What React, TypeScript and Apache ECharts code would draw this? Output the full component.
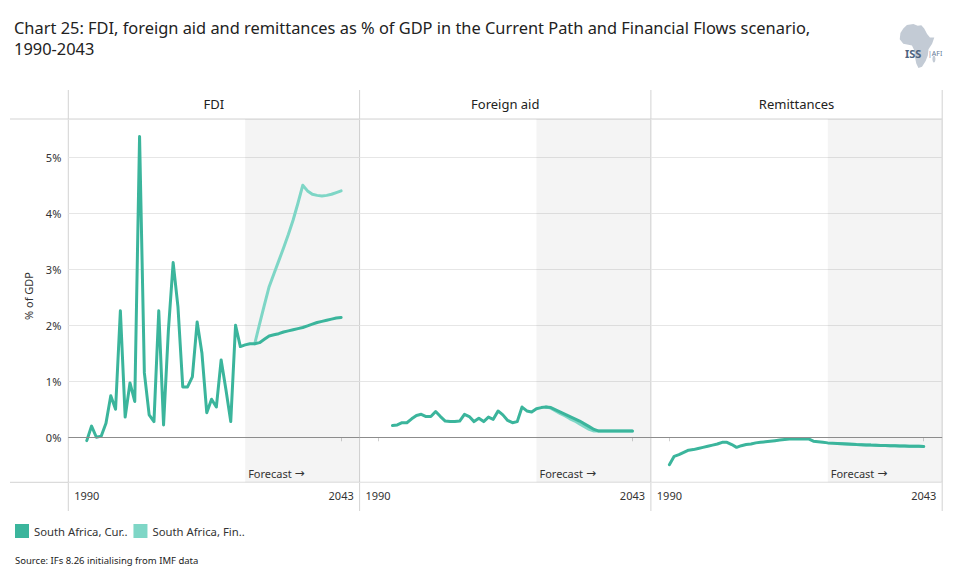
import React, { useEffect, useRef } from "react";
import * as echarts from "echarts";

const years = [
  1990, 1991, 1992, 1993, 1994, 1995, 1996, 1997, 1998, 1999,
  2000, 2001, 2002, 2003, 2004, 2005, 2006, 2007, 2008, 2009,
  2010, 2011, 2012, 2013, 2014, 2015, 2016, 2017, 2018, 2019,
  2020, 2021, 2022, 2023, 2024, 2025, 2026, 2027, 2028, 2029,
  2030, 2031, 2032, 2033, 2034, 2035, 2036, 2037, 2038, 2039,
  2040, 2041, 2042, 2043,
];

// FDI, % of GDP
const fdiCurrent = [
  -0.06, 0.2, 0.0, 0.02, 0.25, 0.74, 0.5, 2.26, 0.36, 0.97,
  0.64, 5.37, 1.15, 0.4, 0.28, 2.26, 0.22, 1.9, 3.12, 2.33,
  0.9, 0.9, 1.08, 2.06, 1.5, 0.44, 0.68, 0.54, 1.38, 0.85,
  0.28, 2.0, 1.62, 1.65, 1.67, 1.67, 1.69, 1.75, 1.81, 1.83,
  1.85, 1.88, 1.9, 1.92, 1.94, 1.96, 1.99, 2.02, 2.05, 2.07,
  2.09, 2.11, 2.13, 2.14,
];
const fdiFinancial = [
  null, null, null, null, null, null, null, null, null, null,
  null, null, null, null, null, null, null, null, null, null,
  null, null, null, null, null, null, null, null, null, null,
  null, null, null, null, null, 1.67, 2.02, 2.36, 2.69, 2.92,
  3.15, 3.38, 3.62, 3.88, 4.18, 4.5, 4.4, 4.34, 4.32, 4.31,
  4.32, 4.34, 4.37, 4.4,
];

// Foreign aid, % of GDP
const aidCurrent = [
  null, null, null, 0.21, 0.22, 0.26, 0.26, 0.33, 0.39, 0.41,
  0.37, 0.37, 0.46, 0.37, 0.29, 0.28, 0.28, 0.29, 0.41, 0.37,
  0.28, 0.34, 0.28, 0.36, 0.32, 0.47, 0.4, 0.3, 0.26, 0.28,
  0.54, 0.47, 0.45, 0.51, 0.53, 0.54, 0.53, 0.49, 0.45, 0.41,
  0.37, 0.33, 0.29, 0.24, 0.19, 0.14, 0.11, 0.11, 0.11, 0.11,
  0.11, 0.11, 0.11, 0.11,
];
const aidFinancial = [
  null, null, null, null, null, null, null, null, null, null,
  null, null, null, null, null, null, null, null, null, null,
  null, null, null, null, null, null, null, null, null, null,
  null, null, null, null, null, 0.54, 0.52, 0.47, 0.42, 0.38,
  0.33, 0.29, 0.24, 0.19, 0.14, 0.11, 0.11, 0.11, 0.11, 0.11,
  0.11, 0.11, 0.11, 0.11,
];

// Remittances, % of GDP
const remCurrent = [
  -0.49, -0.34, -0.31, -0.27, -0.23, -0.22, -0.2, -0.18, -0.16, -0.14,
  -0.12, -0.09, -0.09, -0.13, -0.18, -0.15, -0.13, -0.12, -0.1, -0.09,
  -0.08, -0.07, -0.06, -0.05, -0.04, -0.03, -0.03, -0.03, -0.03, -0.03,
  -0.07, -0.08, -0.09, -0.1, -0.105, -0.11, -0.115, -0.12, -0.125, -0.13,
  -0.133, -0.136, -0.14, -0.142, -0.145, -0.148, -0.15, -0.152, -0.154, -0.156,
  -0.158, -0.16, -0.162, -0.164,
];
const remFinancial = [
  null, null, null, null, null, null, null, null, null, null,
  null, null, null, null, null, null, null, null, null, null,
  null, null, null, null, null, null, null, null, null, null,
  null, null, null, null, null, -0.11, -0.115, -0.12, -0.125, -0.13,
  -0.133, -0.136, -0.14, -0.142, -0.145, -0.148, -0.15, -0.152, -0.154, -0.156,
  -0.158, -0.16, -0.162, -0.164,
];

const panelTitles = ["FDI", "Foreign aid", "Remittances"];
const seriesNames = ["South Africa, Current Path", "South Africa, Financial Flows"];
const xTickLabels = [1990, 2043];
const forecastStart = 2023;
const yLabelSuffix = "%";
const titleLines = [
  "Chart 25: FDI, foreign aid and remittances as % of GDP in the Current Path and Financial Flows scenario,",
  "1990-2043",
];

const panels = [
  { current: fdiCurrent, financial: fdiFinancial },
  { current: aidCurrent, financial: aidFinancial },
  { current: remCurrent, financial: remFinancial },
];

const X_MIN = 1986.15;
const X_MAX = 2046.85;
const Y_MIN = -0.804;
const Y_MAX = 5.684;
const COLOR_CP = "#3bb59c";
const COLOR_FF = "#7ed6c6";
const FONT = "'Noto Sans', 'Open Sans', sans-serif";

const PANEL_LEFT = [68.3, 359.6, 650.9];
const PANEL_W = 291.3;
const GRID_TOP = 119;
const GRID_H = 363.3;

function pairs(vals: (number | null)[]) {
  return years
    .map((y, i) => [y, vals[i]] as [number, number | null])
    .filter((p) => p[1] !== null);
}

export default function App() {
  const ref = useRef<HTMLDivElement>(null);
  useEffect(() => {
    document.body.style.margin = "0";
    if (!ref.current) return;
    const chart = echarts.init(ref.current, null, { renderer: "svg" });

    const grids = PANEL_LEFT.map((l) => ({
      left: l,
      top: GRID_TOP,
      width: PANEL_W,
      height: GRID_H,
      outerBoundsMode: "none",
      containLabel: false,
    }));

    const xAxes = panels.map((_, i) => ({
      type: "value",
      gridIndex: i,
      min: X_MIN,
      max: X_MAX,
      axisLine: { show: false },
      splitLine: { show: false },
      axisTick: {
        show: true,
        customValues: xTickLabels,
        length: 4,
        lineStyle: { color: "#cfcfcf" },
      },
      axisLabel: {
        customValues: xTickLabels,
        fontSize: 11,
        color: "#333",
        margin: 8,
        fontFamily: FONT,
        formatter: (v: number) => String(v),
      },
    }));

    const yAxes = panels.map((_, i) => ({
      type: "value",
      gridIndex: i,
      min: Y_MIN,
      max: Y_MAX,
      splitNumber: 6,
      axisLine: { show: false },
      axisTick: { show: false },
      splitLine: { show: true, lineStyle: { color: "#e6e6e6", width: 1 } },
      axisLabel: {
        show: i === 0,
        showMinLabel: false,
        showMaxLabel: false,
        fontSize: 11,
        color: "#333",
        margin: 7,
        fontFamily: FONT,
        formatter: (v: number) =>
          Math.abs(v - Math.round(v)) < 1e-6 ? Math.round(v) + yLabelSuffix : "",
      },
    }));

    const series: any[] = [];
    panels.forEach((p, i) => {
      series.push({
        name: seriesNames[1],
        type: "line",
        xAxisIndex: i,
        yAxisIndex: i,
        data: pairs(p.financial),
        showSymbol: false,
        symbol: "none",
        silent: true,
        z: 3,
        lineStyle: { color: COLOR_FF, width: 3, cap: "round", join: "round" },
        itemStyle: { color: COLOR_FF },
      });
      series.push({
        name: seriesNames[0],
        type: "line",
        xAxisIndex: i,
        yAxisIndex: i,
        data: pairs(p.current),
        showSymbol: false,
        symbol: "none",
        silent: true,
        z: 4,
        lineStyle: { color: COLOR_CP, width: 3, cap: "round", join: "round" },
        itemStyle: { color: COLOR_CP },
        markArea: {
          silent: true,
          itemStyle: { color: "rgba(0,0,0,0.045)" },
          label: {
            show: true,
            position: "insideBottomLeft",
            distance: 3,
            color: "#333",
            fontSize: 11,
            fontFamily: FONT,
            formatter: "{t|Forecast} {a|\u2192}",
            rich: {
              t: { fontSize: 11, fontFamily: FONT, color: "#333" },
              a: { fontSize: 12, fontFamily: "'DejaVu Sans', sans-serif", color: "#333" },
            },
          },
          data: [[{ name: "Forecast \u2192", xAxis: forecastStart }, { xAxis: X_MAX }]],
        },
        markLine: {
          silent: true,
          symbol: ["none", "none"],
          label: { show: false },
          lineStyle: { color: "#8c8c8c", width: 1, type: "solid" },
          data: [{ yAxis: 0 }],
        },
      });
    });

    const borderColor = "#d3d3d3";
    const graphics: any[] = [
      {
        type: "text",
        x: 14,
        y: 27,
        style: {
          text: titleLines[0],
          fontSize: 16.4,
          fontFamily: FONT,
          fill: "#222",
          textVerticalAlign: "middle",
        },
      },
      {
        type: "text",
        x: 14,
        y: 48,
        style: {
          text: titleLines[1],
          fontSize: 16.4,
          fontFamily: FONT,
          fill: "#222",
          textVerticalAlign: "middle",
        },
      },
      {
        type: "text",
        x: 28,
        y: 296,
        rotation: Math.PI / 2,
        style: {
          text: "% of GDP",
          fontSize: 11,
          fontFamily: FONT,
          fill: "#333",
          textAlign: "center",
          textVerticalAlign: "middle",
        },
      },
      {
        type: "text",
        x: 15,
        y: 560,
        style: {
          text: "Source: IFs 8.26 initialising from IMF data",
          fontSize: 9.5,
          fontFamily: FONT,
          fill: "#222",
          textVerticalAlign: "middle",
        },
      },
      { type: "line", shape: { x1: 10, y1: GRID_TOP, x2: PANEL_LEFT[2] + PANEL_W, y2: GRID_TOP }, style: { stroke: borderColor, lineWidth: 1 }, silent: true },
      { type: "line", shape: { x1: 10, y1: GRID_TOP + GRID_H, x2: PANEL_LEFT[2] + PANEL_W, y2: GRID_TOP + GRID_H }, style: { stroke: borderColor, lineWidth: 1 }, silent: true },
    ];
    [...PANEL_LEFT, PANEL_LEFT[2] + PANEL_W].forEach((x) => {
      graphics.push({
        type: "line",
        shape: { x1: x, y1: 90, x2: x, y2: 511 },
        style: { stroke: borderColor, lineWidth: 1 },
        silent: true,
      });
    });
    panelTitles.forEach((t, i) => {
      graphics.push({
        type: "text",
        x: PANEL_LEFT[i] + PANEL_W / 2,
        y: 104,
        style: {
          text: t,
          fontSize: 13,
          fontFamily: FONT,
          fill: "#222",
          textAlign: "center",
          textVerticalAlign: "middle",
        },
      });
    });

    // logo
    const lx = 899, ly = 24, lw = 36, lh = 45;
    const outline = [
      [0.22, 0.02], [0.4, 0.0], [0.52, 0.04], [0.62, 0.03], [0.7, 0.1], [0.78, 0.22],
      [0.86, 0.3], [0.98, 0.3], [0.92, 0.44], [0.82, 0.56], [0.8, 0.7], [0.74, 0.82],
      [0.64, 0.95], [0.54, 0.98], [0.48, 0.88], [0.44, 0.72], [0.42, 0.58], [0.36, 0.48],
      [0.26, 0.46], [0.12, 0.44], [0.02, 0.34], [0.04, 0.2], [0.12, 0.1],
    ];
    graphics.push({
      type: "polygon",
      shape: { points: outline.map(([a, b]) => [lx + a * lw, ly + b * lh]) },
      style: { fill: "#c3cbd5" },
      silent: true,
    });
    graphics.push({
      type: "ellipse",
      shape: { cx: lx + 0.97 * lw, cy: ly + 0.78 * lh, rx: 1.5, ry: 3.5 },
      style: { fill: "#c3cbd5" },
      silent: true,
    });
    graphics.push({
      type: "text",
      x: 905,
      y: 53,
      style: { text: "ISS", fontSize: 11, fontWeight: "bold", fontFamily: FONT, fill: "#4d6480", textVerticalAlign: "middle" },
      silent: true,
    });
    graphics.push({
      type: "text",
      x: 928,
      y: 53,
      style: { text: "|AFI", fontSize: 7, fontFamily: FONT, fill: "#5f7896", textVerticalAlign: "middle" },
      silent: true,
    });

    chart.setOption({
      animation: false,
      backgroundColor: "#ffffff",
      tooltip: { show: false },
      legend: {
        show: true,
        data: [seriesNames[0], seriesNames[1]],
        left: 10,
        top: 519,
        orient: "horizontal",
        icon: "rect",
        itemWidth: 14,
        itemHeight: 14,
        itemGap: 6,
        selectedMode: false,
        textStyle: { fontSize: 11.3, color: "#333", fontFamily: FONT },
        formatter: (n: string) => n.slice(0, 17) + "..",
      },
      grid: grids,
      xAxis: xAxes,
      yAxis: yAxes,
      series,
      graphic: graphics,
    });

    return () => chart.dispose();
  }, []);

  return <div ref={ref} style={{ width: 955, height: 584, background: "#fff" }} />;
}
